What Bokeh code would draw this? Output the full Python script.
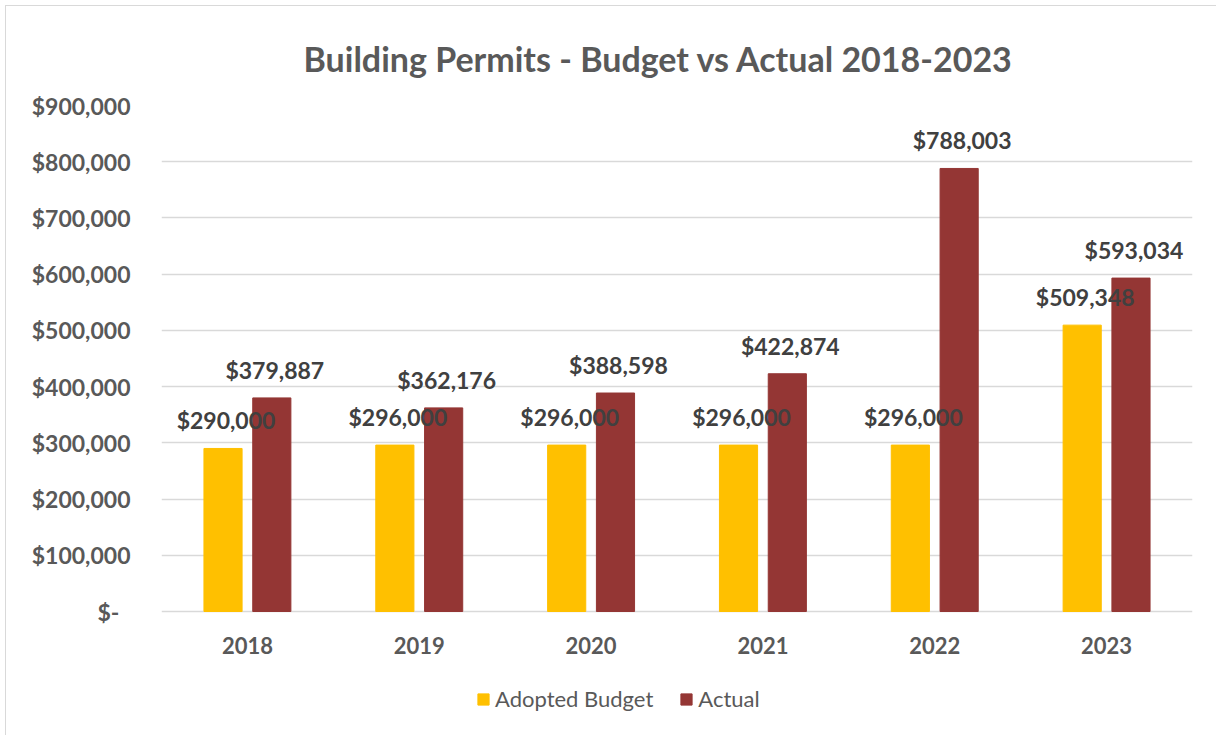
from bokeh.plotting import figure
from bokeh.models import (FactorRange, Range1d, ColumnDataSource, FixedTicker,
                          NumeralTickFormatter, Legend, LegendItem, LabelSet)
from bokeh.transform import dodge
from bokeh.core.properties import value
from bokeh.embed import file_html
from bokeh.resources import INLINE

years = ["2018", "2019", "2020", "2021", "2022", "2023"]
adopted_budget = [290000, 296000, 296000, 296000, 296000, 509348]
actual = [379887, 362176, 388598, 422874, 788003, 593034]
y_ticks = [0, 100000, 200000, 300000, 400000, 500000, 600000, 700000, 800000, 900000]

src = ColumnDataSource(dict(
    year=years,
    zero=[0] * len(years),
    adopted=adopted_budget,
    actual=actual,
    adopted_lbl=[f"${v:,.0f}" for v in adopted_budget],
    actual_lbl=[f"${v:,.0f}" for v in actual],
))

FONT = "Lato"
W, H = 1211, 730
Y_MAX = 900000
# frame extends below zero so that the legend area sits inside it
Y_MIN = -Y_MAX * (730 - 611) / (611 - 105)

p = figure(x_range=FactorRange(*years, range_padding=0),
           y_range=Range1d(Y_MIN, Y_MAX),
           width=W, height=H, output_backend="svg", toolbar_location=None,
           min_border_left=155, min_border_right=25,
           min_border_top=99, min_border_bottom=6)

p.margin = (5, 0, 0, 5)
p.styles = {"border-top": "1px solid #D9D9D9", "border-left": "1px solid #D9D9D9"}
p.outline_line_color = None

p.title.text = "Building Permits - Budget vs Actual 2018-2023"
p.title.align = "left"
p.title.offset = 142
p.title.standoff = 53
p.title.text_font = FONT
p.title.text_font_size = "34px"
p.title.text_font_style = "bold"
p.title.text_color = "#595959"

YEL = "#FFC000"
RED = "#943634"

r1 = p.vbar(x=dodge("year", -0.142, range=p.x_range), top="adopted", width=0.222,
            source=src, fill_color=YEL, line_color=YEL)
r2 = p.vbar(x=dodge("year", 0.142, range=p.x_range), top="actual", width=0.222,
            source=src, fill_color=RED, line_color=RED)

for xo, col, lbl in [(-0.142, "adopted", "adopted_lbl"), (0.142, "actual", "actual_lbl")]:
    ls = LabelSet(x=dodge("year", xo, range=p.x_range), y=col, text=lbl, source=src,
                  x_offset=3, y_offset=19, text_align="center", text_baseline="alphabetic",
                  text_font=value(FONT), text_font_size=value("23px"),
                  text_font_style=value("bold"), text_color=value("#404040"))
    p.add_layout(ls)

# category labels under the zero line
cat = LabelSet(x="year", y="zero", text="year", source=src, y_offset=-34,
               text_align="center", text_baseline="middle",
               text_font=value(FONT), text_font_size=value("22px"),
               text_font_style=value("bold"), text_color=value("#595959"))
p.add_layout(cat)
p.xaxis.visible = False

# y axis
p.yaxis.ticker = FixedTicker(ticks=y_ticks)
p.yaxis.formatter = NumeralTickFormatter(format="$0,0")
p.yaxis.major_label_overrides = {0: "$-\u00a0\u00a0"}
p.yaxis.axis_line_color = None
p.yaxis.major_tick_line_color = None
p.yaxis.minor_tick_line_color = None
p.yaxis.major_tick_out = 0
p.yaxis.major_tick_in = 0
p.yaxis.major_label_standoff = 31
p.yaxis.major_label_text_font = FONT
p.yaxis.major_label_text_font_size = "23px"
p.yaxis.major_label_text_font_style = "bold"
p.yaxis.major_label_text_color = "#595959"

p.xgrid.grid_line_color = None
p.ygrid.grid_line_color = "#D9D9D9"
p.ygrid.grid_line_width = 1.5

legend = Legend(items=[LegendItem(label="Adopted Budget", renderers=[r1]),
                       LegendItem(label="Actual", renderers=[r2])],
                location=(315, 18), orientation="horizontal",
                glyph_width=14, glyph_height=14, label_standoff=5, spacing=26,
                padding=0, margin=0, border_line_color=None, background_fill_alpha=0,
                label_text_font=FONT, label_text_font_size="22px",
                label_text_color="#595959")
p.add_layout(legend, "center")

open("out.html", "w").write(file_html(p, INLINE))
